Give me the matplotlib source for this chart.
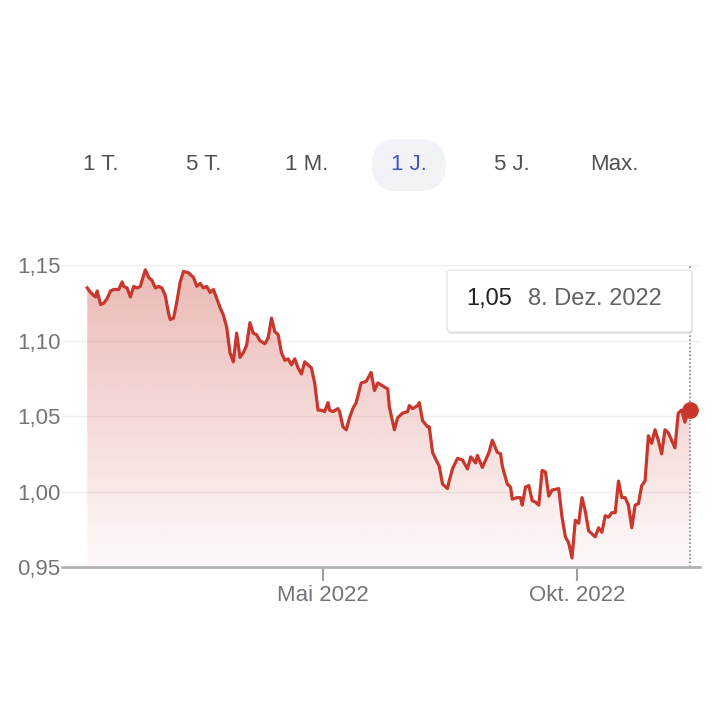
import matplotlib
matplotlib.use('Agg')
import matplotlib.pyplot as plt
import matplotlib.dates as mdates
import numpy as np
import pandas as pd
from matplotlib.patches import FancyBboxPatch, Polygon

plt.rcParams['font.family'] = ['Liberation Sans', 'DejaVu Sans']

# ---------------- data ----------------
dates = [
    '2021-12-10', '2021-12-12', '2021-12-15', '2021-12-16', '2021-12-18', '2021-12-20', '2021-12-22',
    '2021-12-24', '2021-12-26', '2021-12-29', '2021-12-31',
    '2022-01-01', '2022-01-03', '2022-01-05', '2022-01-07', '2022-01-09', '2022-01-11', '2022-01-12',
    '2022-01-14', '2022-01-16', '2022-01-18', '2022-01-20', '2022-01-22', '2022-01-24', '2022-01-26',
    '2022-01-28', '2022-01-29', '2022-01-31',
    '2022-02-02', '2022-02-04', '2022-02-06', '2022-02-09', '2022-02-12', '2022-02-14', '2022-02-16',
    '2022-02-18', '2022-02-20', '2022-02-22', '2022-02-24', '2022-02-26', '2022-02-28',
    '2022-03-02', '2022-03-04', '2022-03-06', '2022-03-08', '2022-03-10', '2022-03-12', '2022-03-14',
    '2022-03-16', '2022-03-18', '2022-03-20', '2022-03-22', '2022-03-24', '2022-03-27', '2022-03-29',
    '2022-03-31',
    '2022-04-02', '2022-04-04', '2022-04-06', '2022-04-08', '2022-04-10', '2022-04-12', '2022-04-14',
    '2022-04-16', '2022-04-18', '2022-04-20', '2022-04-22', '2022-04-24', '2022-04-26', '2022-04-28',
    '2022-04-30',
    '2022-05-02', '2022-05-04', '2022-05-05', '2022-05-07', '2022-05-10', '2022-05-11', '2022-05-13',
    '2022-05-15', '2022-05-17', '2022-05-19', '2022-05-21', '2022-05-24', '2022-05-27', '2022-05-30',
    '2022-06-01', '2022-06-03', '2022-06-06', '2022-06-09', '2022-06-10', '2022-06-13', '2022-06-15',
    '2022-06-18', '2022-06-21', '2022-06-22', '2022-06-24', '2022-06-27', '2022-06-28', '2022-06-30',
    '2022-07-03', '2022-07-04', '2022-07-06', '2022-07-09', '2022-07-10', '2022-07-12', '2022-07-15',
    '2022-07-16', '2022-07-18', '2022-07-21', '2022-07-24', '2022-07-27', '2022-07-29',
    '2022-08-01', '2022-08-02', '2022-08-05', '2022-08-07', '2022-08-09', '2022-08-11', '2022-08-14',
    '2022-08-16', '2022-08-17', '2022-08-20', '2022-08-22', '2022-08-23', '2022-08-26', '2022-08-28',
    '2022-08-29', '2022-08-31',
    '2022-09-02', '2022-09-04', '2022-09-06', '2022-09-08', '2022-09-10', '2022-09-12', '2022-09-14',
    '2022-09-16', '2022-09-20', '2022-09-22', '2022-09-24', '2022-09-26', '2022-09-28', '2022-09-30',
    '2022-10-02', '2022-10-04', '2022-10-06', '2022-10-08', '2022-10-10', '2022-10-12', '2022-10-14',
    '2022-10-16', '2022-10-18', '2022-10-20', '2022-10-22', '2022-10-24', '2022-10-26', '2022-10-28',
    '2022-10-30',
    '2022-11-01', '2022-11-03', '2022-11-05', '2022-11-07', '2022-11-09', '2022-11-11', '2022-11-13',
    '2022-11-15', '2022-11-17', '2022-11-19', '2022-11-21', '2022-11-23', '2022-11-25', '2022-11-27',
    '2022-11-29',
    '2022-12-01', '2022-12-03', '2022-12-05', '2022-12-07', '2022-12-08',
]
values = [
    1.135, 1.132, 1.129, 1.133, 1.124, 1.125, 1.128, 1.133, 1.134, 1.134, 1.139,
    1.136, 1.135, 1.129, 1.136, 1.135, 1.136, 1.140, 1.147, 1.142, 1.140, 1.135, 1.136, 1.135, 1.130,
    1.118, 1.114, 1.115,
    1.126, 1.139, 1.146, 1.145, 1.142, 1.136, 1.138, 1.135, 1.136, 1.132, 1.134, 1.128, 1.122,
    1.117, 1.109, 1.092, 1.086, 1.105, 1.089, 1.092, 1.097, 1.112, 1.105, 1.104, 1.100, 1.098, 1.102,
    1.115,
    1.106, 1.104, 1.092, 1.087, 1.088, 1.084, 1.088, 1.082, 1.078, 1.086, 1.084, 1.082, 1.072, 1.054,
    1.054,
    1.053, 1.059, 1.054, 1.053, 1.055, 1.053, 1.043, 1.041, 1.049, 1.055, 1.059, 1.072, 1.073, 1.079,
    1.067, 1.072, 1.070, 1.068, 1.056, 1.041, 1.049, 1.052, 1.053, 1.057, 1.055, 1.057, 1.059, 1.047,
    1.043, 1.043, 1.026, 1.019, 1.017, 1.005, 1.002, 1.007, 1.015, 1.022, 1.021, 1.015, 1.023,
    1.019, 1.024, 1.016, 1.021, 1.026, 1.034, 1.026, 1.025, 1.017, 1.005, 1.003, 0.995, 0.996, 0.996,
    0.991, 1.003,
    1.004, 0.994, 0.993, 0.991, 1.014, 1.013, 0.997, 1.001, 1.002, 0.983, 0.970, 0.966, 0.956, 0.981,
    0.979, 0.996, 0.987, 0.974, 0.972, 0.970, 0.976, 0.973, 0.984, 0.983, 0.986, 0.986, 1.007, 0.996,
    0.996,
    0.991, 0.976, 0.991, 0.992, 1.004, 1.007, 1.037, 1.032, 1.041, 1.034, 1.025, 1.041, 1.039, 1.034,
    1.029,
    1.052, 1.054, 1.046, 1.053, 1.054,
]
y_ticks = [0.95, 1.00, 1.05, 1.10, 1.15]
y_tick_labels = ['0,95', '1,00', '1,05', '1,10', '1,15']
x_tick_dates = ['2022-05-01', '2022-10-01']
x_tick_labels = ['Mai 2022', 'Okt. 2022']
range_buttons = ['1 T.', '5 T.', '1 M.', '1 J.', '5 J.', 'Max.']
selected_button = '1 J.'
tooltip_value = '1,05'
tooltip_date = '8. Dez. 2022'

# ---------------- styling ----------------
LINE = '#c9372c'
GRAY_TXT = '#70757a'
W = H = 720

x = mdates.date2num(pd.to_datetime(dates))
y = np.array(values)

fig = plt.figure(figsize=(7.2, 7.2), dpi=100)
fig.patch.set_facecolor('white')


def fx(px):
    return px / W


def fy(py):
    return 1 - py / H


ax = fig.add_axes([fx(62), fy(567), fx(700) - fx(62), fy(265.3) - fy(567)])

x_may = mdates.date2num(pd.Timestamp('2022-05-01'))
xmin, xmax = x_may - 157.2, x_may + 227.1
ymin, ymax = 0.95, 1.15

# gradient fill under the line
grad = np.zeros((256, 1, 4))
grad[..., 0] = 200 / 255
grad[..., 1] = 60 / 255
grad[..., 2] = 50 / 255
grad[:, 0, 3] = np.linspace(0.03, 0.36, 256)
im = ax.imshow(grad, extent=[xmin, xmax, ymin, ymax], origin='lower', aspect='auto',
               zorder=1, interpolation='bilinear')
verts = np.column_stack([np.concatenate([x, [x[-1], x[0]]]),
                         np.concatenate([y, [ymin, ymin]])])
clip = Polygon(verts, closed=True, facecolor='none', edgecolor='none', transform=ax.transData)
ax.add_patch(clip)
im.set_clip_path(clip)

# gridlines
for t in y_ticks[1:]:
    ax.axhline(t, color='#efefef', lw=1.0, zorder=0.5)

# line
ax.plot(x, y, color=LINE, lw=2.3, zorder=3, solid_joinstyle='round', clip_on=False)

# hover indicator
ax.plot([x[-1], x[-1]], [ymin, ymax], color='#80868b', lw=1.2, ls=(0, (1, 1.3)), zorder=2,
        clip_on=False)
ax.plot([x[-1]], [y[-1]], 'o', color=LINE, ms=11, zorder=4, clip_on=False)

ax.set_xlim(xmin, xmax)
ax.set_ylim(ymin, ymax)

ax.set_yticks(y_ticks)
ax.set_yticklabels(y_tick_labels)
ax.tick_params(axis='y', length=0, pad=1, labelsize=16, labelcolor=GRAY_TXT)
ax.set_xticks(mdates.date2num(pd.to_datetime(x_tick_dates)))
ax.set_xticklabels(x_tick_labels)
ax.tick_params(axis='x', length=10, width=1.5, color='#9aa0a6', direction='out', pad=3,
               labelsize=16, labelcolor=GRAY_TXT)

for s in ['top', 'right', 'left']:
    ax.spines[s].set_visible(False)
ax.spines['bottom'].set_color('#b4b4b4')
ax.spines['bottom'].set_linewidth(2)
ax.set_facecolor('none')

# range selector buttons
btn_x0, btn_dx, btn_y = 101, 102.6, 165
for i, lab in enumerate(range_buttons):
    cx = btn_x0 + i * btn_dx
    if lab == selected_button:
        pw, ph = 74, 52
        pill = FancyBboxPatch((fx(cx - pw / 2 + ph / 2), fy(btn_y + ph / 2) ),
                              fx(pw - ph), fy(btn_y - ph / 2) - fy(btn_y + ph / 2),
                              boxstyle='round,pad=0,rounding_size=%f' % (ph / 2 / W),
                              transform=fig.transFigure, facecolor='#f1f3f6', edgecolor='none',
                              zorder=0)
        # stadium: extend by half height on both sides using pad
        pill = FancyBboxPatch((fx(cx - pw / 2), fy(btn_y + ph / 2)),
                              fx(pw), fy(btn_y - ph / 2) - fy(btn_y + ph / 2),
                              boxstyle='round,pad=0,rounding_size=%f' % (ph / 2 / W),
                              transform=fig.transFigure, facecolor='#f1f3f6', edgecolor='none',
                              zorder=0)
        fig.patches.append(pill)
        color = '#4650c8'
    else:
        color = '#4d5156'
    fig.text(fx(cx), fy(btn_y), lab, ha='center', va='center', fontsize=16, color=color)

# tooltip box
bx0, bx1, by0, by1 = 447, 692, 270, 332
shadow = FancyBboxPatch((fx(bx0 + 1), fy(by1 + 2)), fx(bx1 - bx0), fy(by0) - fy(by1),
                        boxstyle='round,pad=0,rounding_size=%f' % (4 / W),
                        transform=fig.transFigure, facecolor='#d5d7da', edgecolor='none',
                        alpha=0.7, zorder=5)
box = FancyBboxPatch((fx(bx0), fy(by1)), fx(bx1 - bx0), fy(by0) - fy(by1),
                     boxstyle='round,pad=0,rounding_size=%f' % (4 / W),
                     transform=fig.transFigure, facecolor='white', edgecolor='#e3e4e6',
                     lw=1.0, zorder=6)
fig.patches.extend([shadow, box])
fig.text(fx(466), fy(299), tooltip_value, ha='left', va='center', fontsize=17,
         color='#202124', zorder=7)
fig.text(fx(528), fy(299), tooltip_date, ha='left', va='center', fontsize=17,
         color='#5f6368', zorder=7)

fig.savefig('out.png', dpi=100, facecolor='white')
